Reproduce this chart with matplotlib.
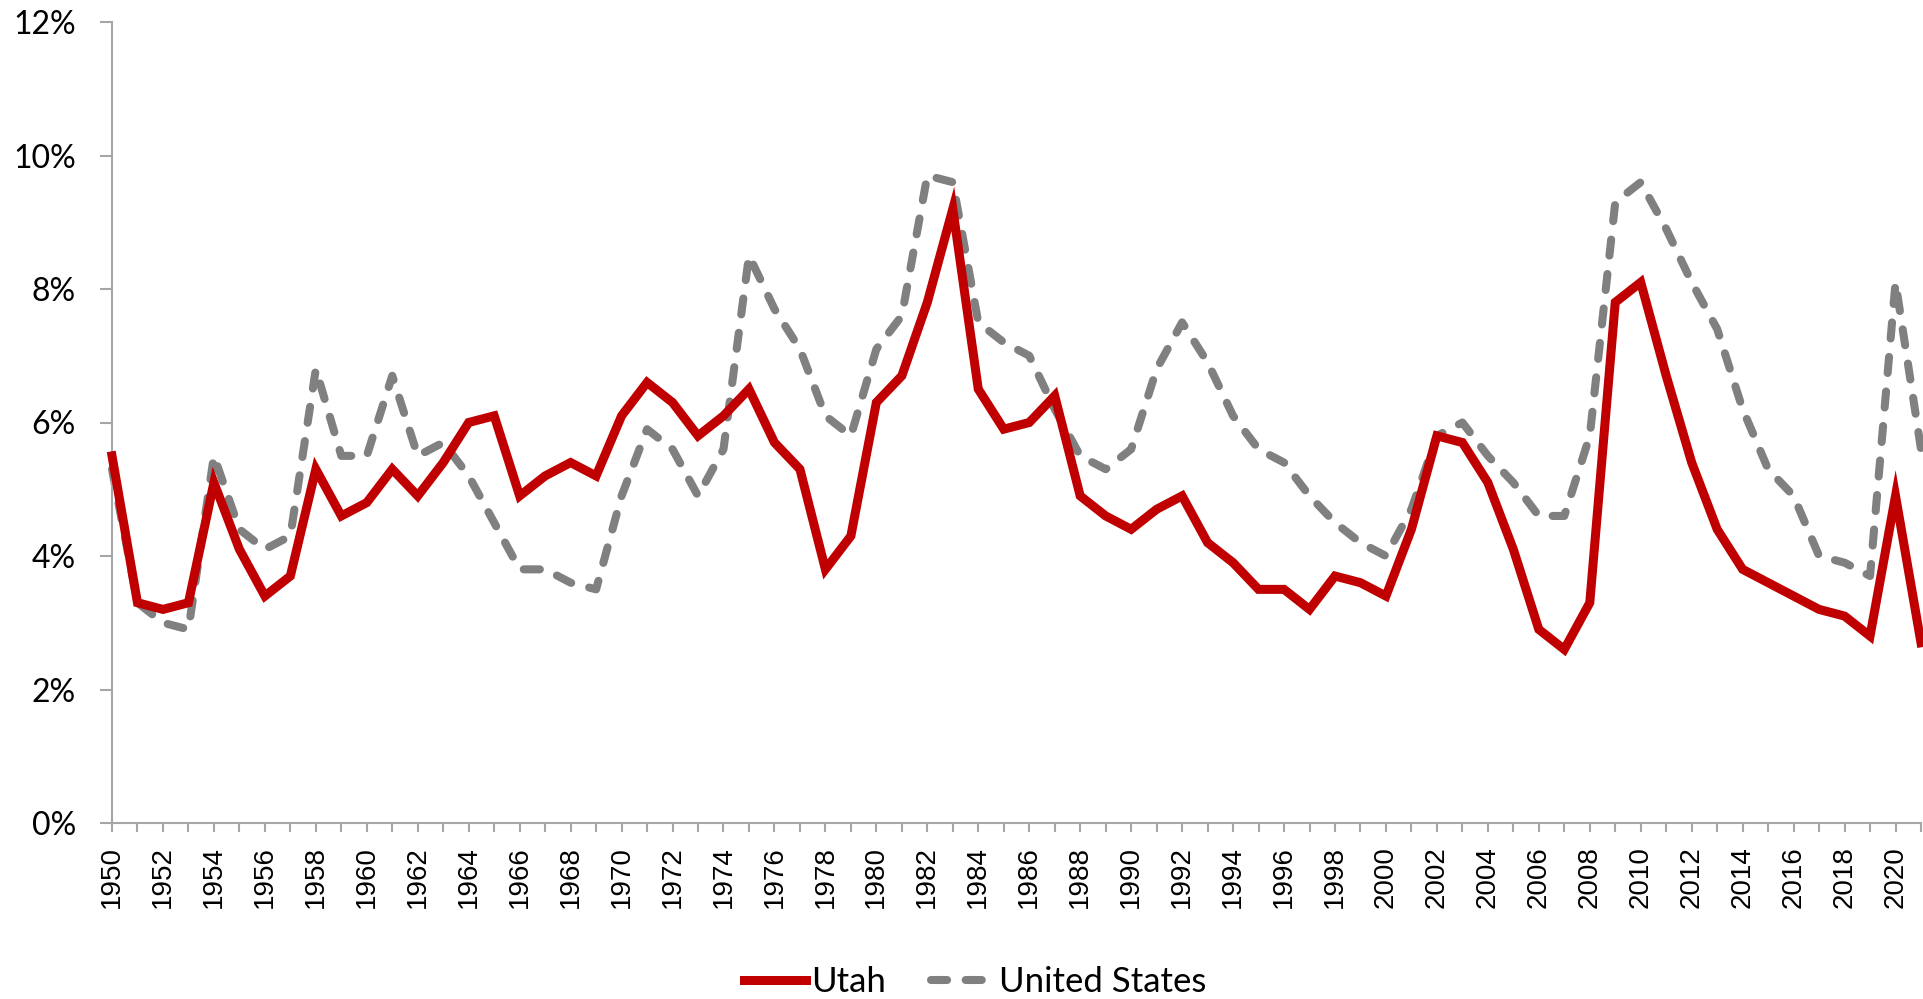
import numpy as np
import matplotlib
matplotlib.use("Agg")
from matplotlib import pyplot as plt

# unemployment rate, %
years = list(range(1950, 2022))
utah = [5.5, 3.3, 3.2, 3.3, 5.1, 4.1, 3.4, 3.7, 5.3, 4.6,
        4.8, 5.3, 4.9, 5.4, 6.0, 6.1, 4.9, 5.2, 5.4, 5.2,
        6.1, 6.6, 6.3, 5.8, 6.1, 6.5, 5.7, 5.3, 3.8, 4.3,
        6.3, 6.7, 7.8, 9.2, 6.5, 5.9, 6.0, 6.4, 4.9, 4.6,
        4.4, 4.7, 4.9, 4.2, 3.9, 3.5, 3.5, 3.2, 3.7, 3.6,
        3.4, 4.4, 5.8, 5.7, 5.1, 4.1, 2.9, 2.6, 3.3, 7.8,
        8.1, 6.7, 5.4, 4.4, 3.8, 3.6, 3.4, 3.2, 3.1, 2.8,
        4.9, 2.7]
us = [5.3, 3.3, 3.0, 2.9, 5.5, 4.4, 4.1, 4.3, 6.8, 5.5,
      5.5, 6.7, 5.5, 5.7, 5.2, 4.5, 3.8, 3.8, 3.6, 3.5,
      4.9, 5.9, 5.6, 4.9, 5.6, 8.5, 7.7, 7.1, 6.1, 5.8,
      7.1, 7.6, 9.7, 9.6, 7.5, 7.2, 7.0, 6.2, 5.5, 5.3,
      5.6, 6.8, 7.5, 6.9, 6.1, 5.6, 5.4, 4.9, 4.5, 4.2,
      4.0, 4.7, 5.8, 6.0, 5.5, 5.1, 4.6, 4.6, 5.8, 9.3,
      9.6, 8.9, 8.1, 7.4, 6.2, 5.3, 4.9, 4.0, 3.9, 3.7,
      8.1, 5.6]
y_ticks = [0, 2, 4, 6, 8, 10, 12]

axis_grey = '#A6A6A6'

fig = plt.figure(figsize=(19.23, 9.99), dpi=100)
ax = fig.add_axes([112/1923, 1 - 823/999, (1921 - 112)/1923, (823 - 22)/999])

ax.plot(years, utah, color='#C00000', lw=6.5, solid_joinstyle='miter',
        label='Utah', clip_on=False, zorder=3)
ax.plot(years, us, color='#808080', lw=5.8, dashes=(2.0, 2.3),
        dash_capstyle='round', label='United States', clip_on=False, zorder=2)

ax.set_xlim(1950, 2021)
ax.set_ylim(0, 12)

ax.set_yticks(y_ticks)
ax.set_yticklabels([f'{v}%' for v in y_ticks], family='Lato', fontsize=23)
ax.set_xticks(years)
ax.set_xticklabels([str(y) if y % 2 == 0 else '' for y in years],
                   rotation=90, family='Liberation Sans', fontsize=20)

for s in ['top', 'right']:
    ax.spines[s].set_visible(False)
for s in ['left', 'bottom']:
    ax.spines[s].set_color(axis_grey)
    ax.spines[s].set_linewidth(1.5)
ax.tick_params(axis='y', length=9, width=1.5, color=axis_grey, pad=17)
ax.tick_params(axis='x', length=6.5, width=1.5, color=axis_grey, pad=10)

fig.legend(loc='center', bbox_to_anchor=(0.507, 1 - 982/999), ncol=2,
           frameon=False, prop={'family': 'Lato', 'size': 25},
           handlelength=1.8, handletextpad=0.15, columnspacing=1.3)

fig.savefig('out.png', dpi=100)
